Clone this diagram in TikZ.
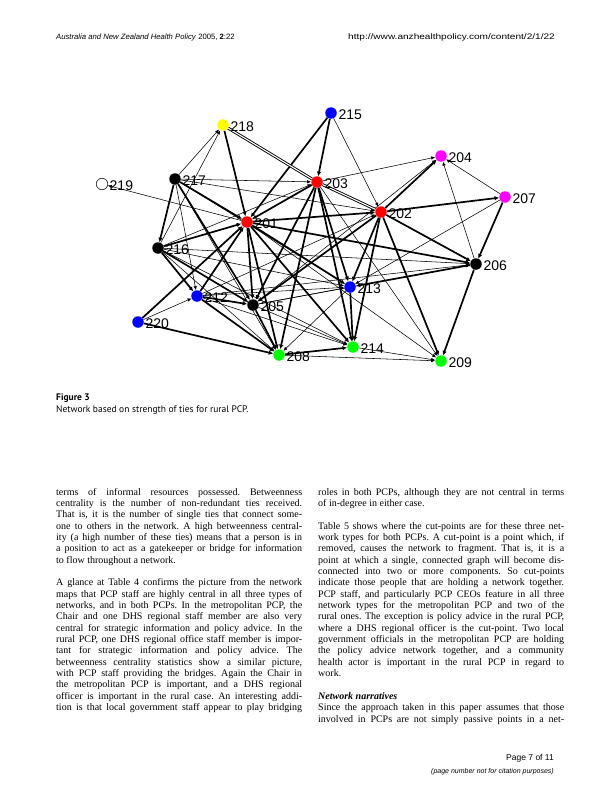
\documentclass[tikz,border=0pt]{standalone}
\usepackage{fontspec}
\setmainfont{Liberation Serif}
\newfontfamily\hdrfont{Liberation Sans}
\newfontfamily\capfont{PT Sans}
\usetikzlibrary{arrows.meta,backgrounds}
\definecolor{nred}{RGB}{255,0,0}
\definecolor{nblue}{RGB}{0,0,255}
\definecolor{ngreen}{RGB}{0,255,0}
\definecolor{nyellow}{RGB}{255,255,0}
\definecolor{nmag}{RGB}{255,0,255}
\begin{document}
\begin{tikzpicture}[x=1pt,y=-1pt,
  vtx/.style={circle,inner sep=0pt,minimum size=11.5pt,draw=none},
  lbl/.style={anchor=west,inner sep=0pt,font=\hdrfont\fontsize{14}{14}\selectfont},
  thickedge/.style={line width=1.7pt,-{Latex[length=4.5pt,width=4.5pt]}},
  thinedge/.style={line width=0.55pt,-{Latex[length=4pt,width=3.5pt]}},
  dbledge/.style={line width=0.9pt,double,double distance=1.1pt},
  bodytext/.style={anchor=base west,inner sep=0pt,text width=246pt,align=justify,
    font=\fontsize{10}{11.35}\selectfont},
  txt/.style={inner sep=0pt}
]
\useasboundingbox (0,0) rectangle (612,792);

% header
\node[txt,anchor=base west,font=\hdrfont\fontsize{7.7}{9}\selectfont] (hdrl) at (56,40)
  {\textit{Australia and New Zealand Health Policy} 2005, \textbf{2}:22};
\node[txt,anchor=base east,font=\hdrfont\fontsize{8}{9}\selectfont] (hdrr) at (555,40)
  {\scalebox{1.26}[1]{http://www.anzhealthpolicy.com/content/2/1/22}};

% vertices
\node[vtx,fill=nblue] (n215) at (331,113) {};
\node[vtx,fill=nyellow] (n218) at (223,125) {};
\node[vtx,fill=nmag] (n204) at (441,156) {};
\node[vtx,fill=white,draw=black,line width=0.5pt] (n219) at (102,184) {};
\node[vtx,fill=black] (n217) at (175,179) {};
\node[vtx,fill=nred] (n203) at (317,182) {};
\node[vtx,fill=nmag] (n207) at (505,197) {};
\node[vtx,fill=nred] (n202) at (381,212) {};
\node[vtx,fill=nred] (n201) at (247,222) {};
\node[vtx,fill=black] (n216) at (158,248) {};
\node[vtx,fill=black] (n206) at (476,264) {};
\node[vtx,fill=nblue] (n213) at (350,287) {};
\node[vtx,fill=nblue] (n212) at (197,296) {};
\node[vtx,fill=black] (n205) at (253,305) {};
\node[vtx,fill=nblue] (n220) at (138,322) {};
\node[vtx,fill=ngreen] (n214) at (353,347) {};
\node[vtx,fill=ngreen] (n208) at (279,355) {};
\node[vtx,fill=ngreen] (n209) at (441,361) {};

% labels
\foreach \v in {215,218,204,219,217,203,207,202,201,216,206,213,212,205,220,214,208,209}
  \node[lbl] (l\v) at ([xshift=1.5pt,yshift=-2pt]n\v.east) {\v};

\begin{scope}[on background layer]
\foreach \a/\b in {218/201,215/201,215/203,202/204,202/207,207/206,203/201,203/213,
  203/205,203/214,203/208,201/202,202/205,202/213,202/214,202/206,202/209,217/201,
  216/201,212/201,201/205,201/208,201/213,201/206,201/214,206/213,206/209,217/216,
  217/205,216/212,216/205,220/201,220/208,212/205,212/208,205/208,208/214,213/214}
  \draw[thickedge] (n\a) -- (n\b);
\foreach \a/\b in {215/202,203/204,207/204,206/204,207/213,217/218,217/203,217/202,
  217/212,201/219,216/218,216/213,216/208,216/203,220/212,212/213,205/213,205/214,
  208/209,214/209,216/214,212/214,205/206,212/206,217/213,213/208,203/209,212/202,
  205/204,216/206,201/209,217/208}
  \draw[thinedge] (n\a) -- (n\b);
\draw[dbledge] (n218) -- (n203);
\draw[dbledge] (n203) -- (n202);
\end{scope}

% caption
\node[txt,anchor=base west,font=\capfont\bfseries\fontsize{9.5}{11}\selectfont] (figlbl) at (56,400) {Figure 3};
\node[txt,anchor=base west,font=\capfont\fontsize{9.5}{11}\selectfont] (cap) at (56,412)
  {Network based on strength of ties for rural PCP.};

% left column
\node[bodytext] (leftcol) at (56,495) {\parindent=0pt\parskip=11.35pt\frenchspacing
\tolerance=10000\hyphenpenalty=10000\exhyphenpenalty=10000
terms of informal resources possessed. Betweenness\linebreak
centrality is the number of non-redundant ties received.\linebreak
That is, it is the number of single ties that connect some-\linebreak
one to others in the network. A high betweenness central-\linebreak
ity (a high number of these ties) means that a person is in\linebreak
a position to act as a gatekeeper or bridge for information\linebreak
to flow throughout a network.\par
{\parfillskip=0pt
A glance at Table 4 confirms the picture from the network\linebreak
maps that PCP staff are highly central in all three types of\linebreak
networks, and in both PCPs. In the metropolitan PCP, the\linebreak
Chair and one DHS regional staff member are also very\linebreak
central for strategic information and policy advice. In the\linebreak
rural PCP, one DHS regional office staff member is impor-\linebreak
tant for strategic information and policy advice. The\linebreak
betweenness centrality statistics show a similar picture,\linebreak
with PCP staff providing the bridges. Again the Chair in\linebreak
the metropolitan PCP is important, and a DHS regional\linebreak
officer is important in the rural case. An interesting addi-\linebreak
tion is that local government staff appear to play bridging\par}};

% right column
\node[bodytext] (rightcol) at (318,495) {\parindent=0pt\parskip=11.35pt\frenchspacing
\tolerance=10000\hyphenpenalty=10000\exhyphenpenalty=10000
roles in both PCPs, although they are not central in terms\linebreak
of in-degree in either case.\par
Table 5 shows where the cut-points are for these three net-\linebreak
work types for both PCPs. A cut-point is a point which, if\linebreak
removed, causes the network to fragment. That is, it is a\linebreak
point at which a single, connected graph will become dis-\linebreak
connected into two or more components. So cut-points\linebreak
indicate those people that are holding a network together.\linebreak
PCP staff, and particularly PCP CEOs feature in all three\linebreak
network types for the metropolitan PCP and two of the\linebreak
rural ones. The exception is policy advice in the rural PCP,\linebreak
where a DHS regional officer is the cut-point. Two local\linebreak
government officials in the metropolitan PCP are holding\linebreak
the policy advice network together, and a community\linebreak
health actor is important in the rural PCP in regard to\linebreak
work.\par
\textbf{\textit{Network narratives}}\par
{\parskip=0pt\parfillskip=0pt
Since the approach taken in this paper assumes that those\linebreak
involved in PCPs are not simply passive points in a net-\par}};

% footer
\node[txt,anchor=base east,font=\hdrfont\fontsize{8.5}{10}\selectfont] (pg) at (554,760) {Page 7 of 11};
\node[txt,anchor=base east,font=\hdrfont\itshape\fontsize{7}{8}\selectfont] (pgnote) at (554,773)
  {(page number not for citation purposes)};
\end{tikzpicture}
\end{document}
